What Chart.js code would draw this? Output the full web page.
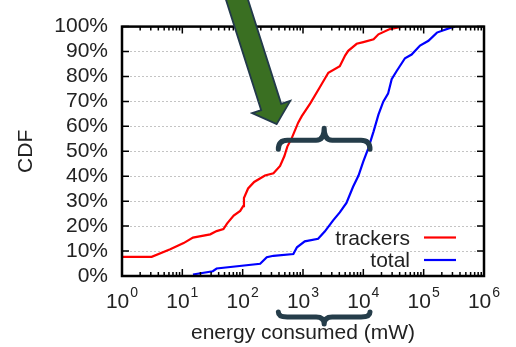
<!DOCTYPE html>
<html>
<head>
<meta charset="utf-8">
<script src="https://cdn.jsdelivr.net/npm/chart.js@4"></script>
<style>
  html, body { margin: 0; padding: 0; background: #fff; }
  #wrap { width: 516px; height: 347px; }
</style>
</head>
<body>
<div id="wrap"><canvas id="cdfChart" width="516" height="347"></canvas></div>
<script>
// energy (mW) and CDF (%)
var trackersEnergy = [1, 3.1, 6.3, 10.5, 15, 29, 37, 48, 55, 71, 91, 102, 105, 123, 155, 234, 324, 417, 490, 550, 646, 832, 955, 1320, 1900, 2630, 4070, 5010, 5620, 7760, 10000, 14800, 17800, 27500, 43600];
var trackersCdf = [7.7, 7.7, 10.7, 13.2, 15.4, 16.7, 18, 18.8, 21, 24.2, 26.1, 28, 31.3, 35.1, 37.7, 40.3, 41.2, 44.1, 48, 51.9, 55.1, 61.5, 64.1, 69.2, 75.7, 81.5, 84.1, 88.5, 90.3, 93.1, 93.8, 94.9, 96.9, 99, 100];

var totalEnergy = [15, 32, 37, 195, 251, 324, 692, 794, 1070, 1780, 2290, 3160, 4070, 5250, 6760, 8320, 10000, 12000, 14800, 17800, 21400, 25700, 29500, 35500, 49000, 63100, 87100, 120000, 166000, 275000, 330000];
var totalCdf = [0.6, 1.9, 3, 4.9, 7.5, 8.1, 8.8, 11.5, 13.9, 14.9, 17.8, 22.3, 25.5, 29.3, 35.8, 40.3, 46, 51, 58, 64.7, 69.9, 73.1, 78.9, 82.1, 87.3, 88.8, 92.4, 94.3, 97.6, 99.5, 100];

var seriesLabels = ['trackers', 'total'];
var xTickValues = [1, 10, 100, 1000, 10000, 100000, 1000000];

// annotation anchors (data units)
var arrowTip = { x: 366, y: 60.9 };
var braceFrom = 390, braceTo = 12900, braceY = 54.4;

var FONT = "'Liberation Sans', Arial, sans-serif";
var TEXT = '#222';

function toPoints(xs, ys) {
  var pts = [];
  for (var i = 0; i < xs.length; i++) pts.push({ x: xs[i], y: ys[i] });
  return pts;
}

function drawBrace(ctx, x0, x1, y, curl, peak) {
  // curl / peak signed: ends go toward +curl, middle point toward -peak
  var xm = (x0 + x1) / 2;
  ctx.beginPath();
  ctx.moveTo(x0, y + curl);
  ctx.quadraticCurveTo(x0, y, x0 + 9, y);
  ctx.lineTo(xm - 8, y);
  ctx.quadraticCurveTo(xm, y, xm, y - peak);
  ctx.quadraticCurveTo(xm, y, xm + 8, y);
  ctx.lineTo(x1 - 9, y);
  ctx.quadraticCurveTo(x1, y, x1, y + curl);
  ctx.stroke();
}

var decorPlugin = {
  id: 'decor',
  afterDraw: function(chart) {
    var ctx = chart.ctx;
    var a = chart.chartArea;
    var xs = chart.scales.x, ys = chart.scales.y;
    ctx.save();

    // tick marks (inside, mirrored)
    ctx.strokeStyle = '#000';
    ctx.lineWidth = 1.5;
    ctx.beginPath();
    for (var k = 0; k < xTickValues.length; k++) {
      var px = xs.getPixelForValue(xTickValues[k]);
      ctx.moveTo(px, a.bottom); ctx.lineTo(px, a.bottom - 7);
      ctx.moveTo(px, a.top); ctx.lineTo(px, a.top + 7);
      if (k < xTickValues.length - 1) {
        for (var m = 2; m <= 9; m++) {
          var mx = xs.getPixelForValue(xTickValues[k] * m);
          ctx.moveTo(mx, a.bottom); ctx.lineTo(mx, a.bottom - 4);
          ctx.moveTo(mx, a.top); ctx.lineTo(mx, a.top + 4);
        }
      }
    }
    for (var v = 0; v <= 100; v += 10) {
      var py = ys.getPixelForValue(v);
      ctx.moveTo(a.left, py); ctx.lineTo(a.left + 7, py);
      ctx.moveTo(a.right, py); ctx.lineTo(a.right - 7, py);
    }
    ctx.stroke();

    // frame
    ctx.lineWidth = 2.5;
    ctx.strokeRect(a.left, a.top, a.right - a.left, a.bottom - a.top);

    // x tick labels 10^k
    ctx.fillStyle = TEXT;
    ctx.textBaseline = 'alphabetic';
    for (var j = 0; j < xTickValues.length; j++) {
      var cx = xs.getPixelForValue(xTickValues[j]);
      var exp = String(Math.round(Math.log10(xTickValues[j])));
      ctx.font = '21px ' + FONT;
      var wBase = ctx.measureText('10').width;
      ctx.font = '14px ' + FONT;
      var wExp = ctx.measureText(exp).width;
      var left = cx - (wBase + 1 + wExp) / 2;
      ctx.font = '21px ' + FONT;
      ctx.textAlign = 'left';
      ctx.fillText('10', left, a.bottom + 32);
      ctx.font = '14px ' + FONT;
      ctx.fillText(exp, left + wBase + 1, a.bottom + 21);
    }

    // legend
    ctx.font = '21px ' + FONT;
    ctx.textAlign = 'right';
    var ds = chart.data.datasets;
    for (var i = 0; i < ds.length; i++) {
      var ly = a.bottom - 38.5 + i * 22.5;
      ctx.fillStyle = TEXT;
      ctx.fillText(ds[i].label, a.right - 74, ly + 7);
      ctx.strokeStyle = ds[i].borderColor;
      ctx.lineWidth = 2.2;
      ctx.beginPath();
      ctx.moveTo(a.right - 60, ly); ctx.lineTo(a.right - 28, ly);
      ctx.stroke();
    }

    // braces
    ctx.strokeStyle = '#253d4a';
    ctx.lineWidth = 5;
    ctx.lineCap = 'round';
    ctx.lineJoin = 'round';
    var b0 = xs.getPixelForValue(braceFrom), b1 = xs.getPixelForValue(braceTo);
    drawBrace(ctx, b0, b1, ys.getPixelForValue(braceY), 9, 12);
    drawBrace(ctx, b0, b1, a.bottom + 41, -5, -7);

    // arrow
    var tx = xs.getPixelForValue(arrowTip.x), ty = ys.getPixelForValue(arrowTip.y);
    var d = [0.304, 0.953], n = [0.953, -0.304];
    function P(u, w) { return [tx - d[0] * u + n[0] * w, ty - d[1] * u + n[1] * w]; }
    var shape = [P(0, 0), P(18, 20), P(18, 10.5), P(170, 10.5), P(170, -10.5), P(18, -10.5), P(18, -20)];
    ctx.beginPath();
    ctx.moveTo(shape[0][0], shape[0][1]);
    for (var s = 1; s < shape.length; s++) ctx.lineTo(shape[s][0], shape[s][1]);
    ctx.closePath();
    ctx.fillStyle = '#3a6f22';
    ctx.fill();
    ctx.strokeStyle = '#22394a';
    ctx.lineWidth = 1.8;
    ctx.lineJoin = 'miter';
    ctx.stroke();

    ctx.restore();
  }
};

new Chart(document.getElementById('cdfChart'), {
  type: 'scatter',
  data: {
    datasets: [
      { label: seriesLabels[0], data: toPoints(trackersEnergy, trackersCdf), showLine: true, borderColor: '#ff0000', borderWidth: 2.2, pointRadius: 0, tension: 0, fill: false },
      { label: seriesLabels[1], data: toPoints(totalEnergy, totalCdf), showLine: true, borderColor: '#0000ff', borderWidth: 2.2, pointRadius: 0, tension: 0, fill: false }
    ]
  },
  options: {
    responsive: false,
    animation: false,
    layout: { padding: { left: 0, right: 32, top: 17, bottom: 0 } },
    plugins: { legend: { display: false }, tooltip: { enabled: false } },
    scales: {
      x: {
        type: 'logarithmic',
        min: 1,
        max: 1000000,
        ticks: { display: false },
        grid: { display: false },
        border: { display: false },
        title: { display: true, text: 'energy consumed (mW)', color: TEXT, font: { family: FONT, size: 21 }, padding: { top: 0, bottom: 1 } },
        afterFit: function(scale) { scale.height = 71; }
      },
      y: {
        min: 0,
        max: 100,
        ticks: { stepSize: 10, autoSkip: false, padding: 14, color: TEXT, font: { family: FONT, size: 21 }, callback: function(v) { return v + '%'; } },
        grid: { color: '#c4c4c4', lineWidth: 1, drawTicks: false },
        border: { display: false, dash: [2, 2] },
        title: { display: true, text: 'CDF', color: TEXT, font: { family: FONT, size: 21 }, padding: { top: 14, bottom: 0 } },
        afterFit: function(scale) { scale.width = 122; }
      }
    }
  },
  plugins: [decorPlugin]
});
</script>
</body>
</html>
